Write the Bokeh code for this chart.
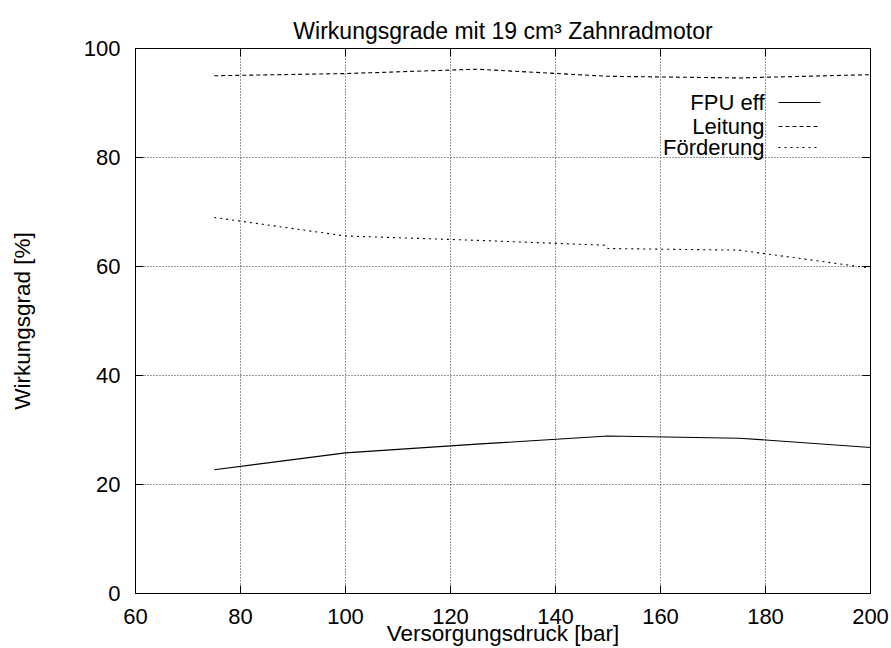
from bokeh.plotting import figure
from bokeh.models import Range1d, LinearAxis, FixedTicker, Label, Arrow, CustomJSTickFormatter
from bokeh.embed import file_html
from bokeh.resources import INLINE

# ---- data ----
x_ticks = [60, 80, 100, 120, 140, 160, 180, 200]
y_ticks = [0, 20, 40, 60, 80, 100]

druck_fpu = [75, 100, 125, 150, 175, 200]
fpu_eff = [22.7, 25.8, 27.4, 28.9, 28.5, 26.8]

druck_leitung = [75, 100, 125, 150, 175, 200]
leitung = [95.0, 95.4, 96.2, 94.9, 94.6, 95.2]

druck_foerderung = [75, 100, 125, 149.5, 150, 175, 200]
foerderung = [69.0, 65.6, 64.8, 63.9, 63.3, 63.0, 59.7]

legend_labels = ["FPU eff", "Leitung", "Förderung"]
legend_dashes = ["solid", "4 3", "2 4"]

FONT = "Liberation Sans"
FS = "22px"
FS_TITLE = "23px"
FS_LABEL = "22.5px"

p = figure(width=891, height=648, output_backend="svg", toolbar_location=None,
           x_range=Range1d(60, 200), y_range=Range1d(0, 100),
           title="Wirkungsgrade mit 19 cm³ Zahnradmotor",
           x_axis_label="Versorgungsdruck [bar]", y_axis_label="Wirkungsgrad [%]")
p.min_border_left = 135
p.min_border_right = 21
p.min_border_top = 48
p.min_border_bottom = 55
p.background_fill_color = "white"
p.border_fill_color = "white"
p.outline_line_color = "black"
p.outline_line_width = 1

p.title.align = "center"
p.title.text_font = FONT
p.title.text_font_size = FS_TITLE
p.title.text_font_style = "normal"
p.title.text_color = "black"

for ax in (p.xaxis[0], p.yaxis[0]):
    ax.axis_label_text_font = FONT
    ax.axis_label_text_font_size = FS_LABEL
    ax.axis_label_text_font_style = "normal"
    ax.axis_label_text_color = "black"
    ax.major_label_text_font = FONT
    ax.major_label_text_font_size = FS
    ax.major_label_text_color = "black"
    ax.major_tick_in = 8
    ax.major_tick_out = 0
    ax.minor_tick_in = 0
    ax.minor_tick_out = 0
    ax.axis_line_color = "black"
    ax.major_tick_line_color = "black"

p.xaxis[0].ticker = FixedTicker(ticks=x_ticks)
p.yaxis[0].ticker = FixedTicker(ticks=y_ticks)
p.xaxis[0].major_label_standoff = 15
p.xaxis[0].axis_label_standoff = -6
p.yaxis[0].major_label_standoff = 15
p.yaxis[0].axis_label_standoff = 46

# mirrored ticks on top and right (no labels)
blank = CustomJSTickFormatter(code="return ''")
top = LinearAxis(ticker=FixedTicker(ticks=x_ticks), major_tick_in=8, major_tick_out=0,
                 minor_tick_in=0, minor_tick_out=0, formatter=blank,
                 major_label_standoff=0, axis_line_color="black")
right = LinearAxis(ticker=FixedTicker(ticks=y_ticks), major_tick_in=8, major_tick_out=0,
                   minor_tick_in=0, minor_tick_out=0, formatter=blank,
                   major_label_standoff=0, axis_line_color="black")
p.add_layout(top, "above")
p.add_layout(right, "right")

p.xgrid.ticker = FixedTicker(ticks=x_ticks)
p.ygrid.ticker = FixedTicker(ticks=y_ticks)
for g in (p.xgrid[0], p.ygrid[0]):
    g.grid_line_color = "#333333"
    g.grid_line_dash = "1 2"
    g.grid_line_width = 1

p.line(druck_fpu, fpu_eff, line_color="black", line_width=1.1)
p.line(druck_leitung, leitung, line_color="black", line_width=1.1, line_dash=legend_dashes[1])
p.line(druck_foerderung, foerderung, line_color="black", line_width=1.1, line_dash=legend_dashes[2])

# gnuplot-style key: right-aligned text, sample to its right
key_text_right = 629
key_sample = (643, 685)
key_rows = [491, 467, 446]
for lab, dash, yy in zip(legend_labels, legend_dashes, key_rows):
    p.add_layout(Label(x=key_text_right, y=yy, x_units="screen", y_units="screen",
                       text=lab, text_align="right", text_baseline="middle",
                       text_font=FONT, text_font_size=FS, text_color="black"))
    p.add_layout(Arrow(x_start=key_sample[0], x_end=key_sample[1], y_start=yy, y_end=yy,
                       start_units="screen", end_units="screen", end=None,
                       line_color="black", line_width=1.1, line_dash=dash))

open("out.html", "w").write(file_html(p, INLINE))
